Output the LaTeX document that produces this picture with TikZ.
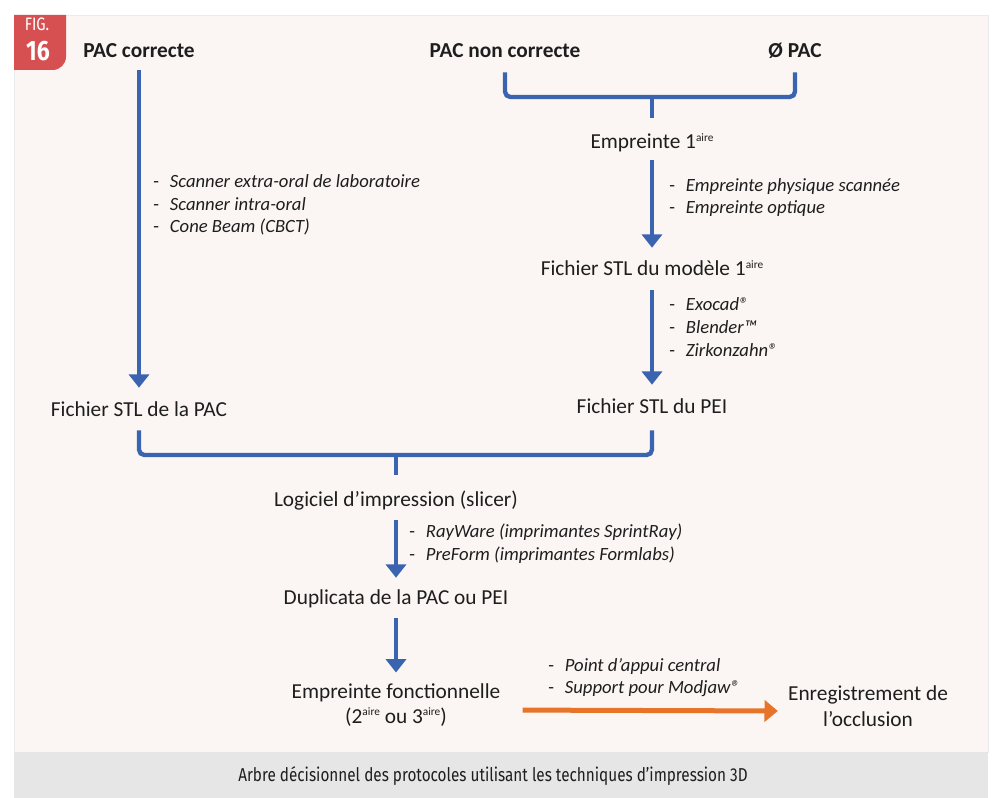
\documentclass[tikz,border=0pt]{standalone}
\usepackage{fontspec}
\setmainfont{Carlito}
\newfontfamily\capfont[FakeStretch=0.82]{Fira Sans}
\usetikzlibrary{arrows.meta}
\definecolor{arrowblue}{RGB}{58,99,176}
\definecolor{arroworange}{RGB}{232,116,42}
\definecolor{figred}{RGB}{214,80,82}
\definecolor{panelbg}{RGB}{251,246,244}
\definecolor{captionbg}{RGB}{230,230,230}
\definecolor{textdark}{RGB}{30,30,30}
\newcommand{\tiret}{\makebox[12.5pt][l]{\upshape -}}
\newcommand{\exposant}[1]{\raisebox{0.75ex}{\fontsize{8.5}{8.5}\selectfont #1}}

\begin{document}
\begin{tikzpicture}[x=0.75pt, y=-0.75pt,
    txt/.style={font=\fontsize{16}{19}\selectfont, text=textdark, inner sep=0pt},
    box/.style={txt, text height=12pt, text depth=3pt},
    head/.style={box, font=\fontsize{16}{19}\selectfont\bfseries},
    tools/.style={font=\fontsize{14}{17}\selectfont\itshape, text=textdark, align=left, anchor=west, inner sep=0pt},
    flow/.style={draw=arrowblue, line width=3.5pt, -{Triangle[width=15pt,length=10pt]}},
    bracket/.style={draw=arrowblue, line width=3.25pt, rounded corners=4pt},
    occlflow/.style={draw=arroworange, line width=3.75pt, -{Triangle[width=16pt,length=10pt]}}]
    \useasboundingbox (0,0) rectangle (1002,798);

    % panel, caption band and figure tab
    \fill[white] (0,0) rectangle (1002,798);
    \fill[panelbg, draw=black!8] (14,15) rectangle (988,752);
    \fill[captionbg] (14,752) rectangle (988,798);
    \fill[figred] (14,15) -- (66,15) [rounded corners=10pt]-- (66,70) [sharp corners]-- (14,70) -- cycle;
    \node[font=\capfont\fontsize{13.5}{13.5}\selectfont, text=white] (figtag) at (37,24) {FIG.};
    \node[font=\capfont\bfseries\fontsize{21}{21}\selectfont, text=white] (fignum) at (38,51) {16};

    % starting situations
    \node[head] (pacok) at (139,52) {PAC correcte};
    \node[head] (pacnon) at (505,52) {PAC non correcte};
    \node[head] (pacnone) at (795,52) {Ø PAC};

    % right branch
    \node[box] (emp1) at (652,143) {Empreinte 1\exposant{aire}};
    \node[box] (stlmod) at (652,270) {Fichier STL du modèle 1\exposant{aire}};
    \node[box] (stlpei) at (652,407) {Fichier STL du PEI};

    % left branch
    \node[box] (stlpac) at (139,410) {Fichier STL de la PAC};

    % common part
    \node[box] (slicer) at (396,500) {Logiciel d’impression (slicer)};
    \node[box] (dup) at (396,598) {Duplicata de la PAC ou PEI};
    \node[txt, align=center] (fonct) at (396,705) {Empreinte fonctionnelle\\(2\exposant{aire} ou 3\exposant{aire})};
    \node[txt, align=center] (occl) at (868,706) {Enregistrement de\\l’occlusion};

    % tools lists
    \node[tools] (toolspac) at (153,205) {\tiret Scanner extra-oral de laboratoire\\\tiret Scanner intra-oral\\\tiret Cone Beam (CBCT)};
    \node[tools] (toolsemp) at (669,197.5) {\tiret Empreinte physique scannée\\\tiret Empreinte optique};
    \node[tools] (toolscad) at (669,327) {\tiret Exocad®\\\tiret Blender™\\\tiret Zirkonzahn®};
    \node[tools] (toolsslic) at (409,543.5) {\tiret RayWare (imprimantes SprintRay)\\\tiret PreForm (imprimantes Formlabs)};
    \node[tools] (toolsoccl) at (548,677.5) {\tiret Point d’appui central\\\tiret Support pour Modjaw®};

    % brackets
    \coordinate (brtop) at (652,97);
    \coordinate (brbot) at (396,455);
    \draw[bracket, shorten <=7.5pt] (pacnon) |- (brtop);
    \draw[bracket, shorten <=7.5pt] (pacnone) |- (brtop);
    \draw[bracket, shorten >=11pt] (brtop) -- (emp1);
    \draw[bracket, shorten <=7.5pt] (stlpac) |- (brbot);
    \draw[bracket, shorten <=9.75pt] (stlpei) |- (brbot);
    \draw[bracket, shorten >=11.25pt] (brbot) -- (slicer);

    % arrows
    \draw[flow, shorten <=6pt, shorten >=9pt] (pacok) -- (stlpac);
    \draw[flow, shorten <=5pt, shorten >=9pt] (emp1) -- (stlmod);
    \draw[flow, shorten <=7.5pt, shorten >=9pt] (stlmod) -- (stlpei);
    \draw[flow, shorten <=7.5pt, shorten >=7.5pt] (slicer) -- (dup);
    \draw[flow, shorten <=7.5pt, shorten >=8pt] (dup) -- (fonct);
    \draw[occlflow, shorten <=16.5pt, shorten >=7.5pt] ([yshift=-3.75pt]fonct.east) -- ([yshift=-3.75pt]occl.west);
    
    % caption
    \node[font=\capfont\fontsize{14}{16}\selectfont, text=textdark] (caption) at (493,776) {Arbre décisionnel des protocoles utilisant les techniques d’impression 3D};
\end{tikzpicture}
\end{document}
